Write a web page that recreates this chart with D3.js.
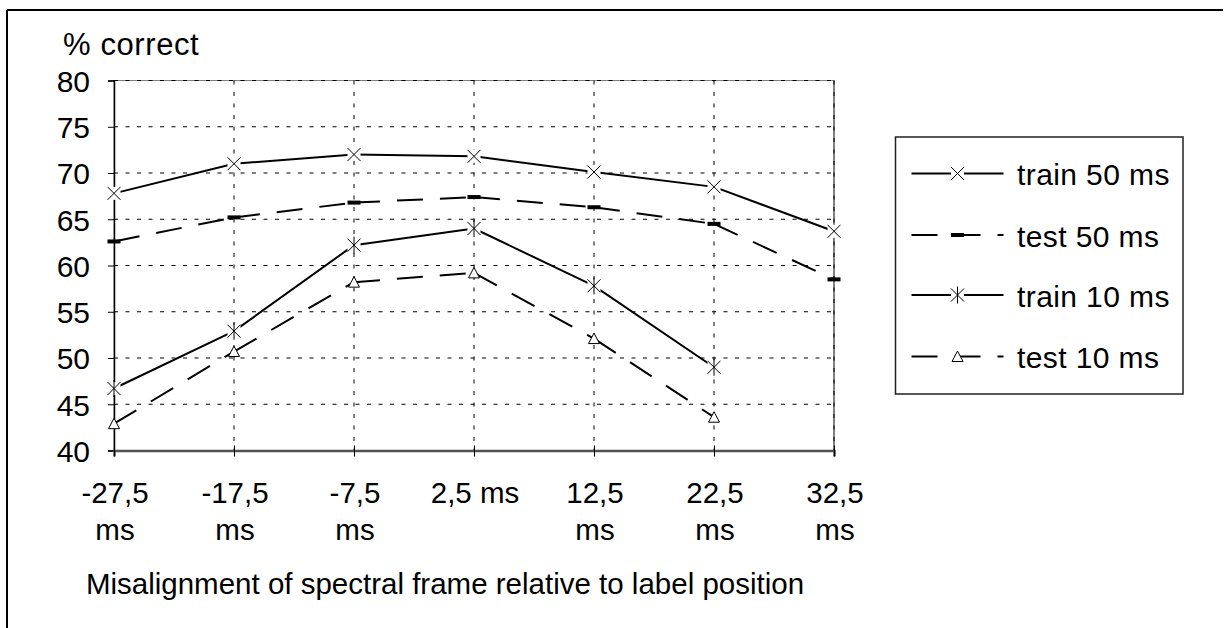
<!DOCTYPE html>
<html>
<head>
<meta charset="utf-8">
<script src="https://cdn.jsdelivr.net/npm/d3@7"></script>
<style>
  body { margin: 0; background: #fff; }
  svg text { font-family: "Liberation Sans", Arial, sans-serif; fill: #000; }
</style>
</head>
<body>
<div id="chart"></div>
<script>

// categories (x positions, misalignment in ms)
const categories = ["-27,5 ms", "-17,5 ms", "-7,5 ms", "2,5 ms", "12,5 ms", "22,5 ms", "32,5 ms"]
// tick labels as Excel wrapped them
const tickLabels = [["-27,5", "ms"], ["-17,5", "ms"], ["-7,5", "ms"], ["2,5 ms"], ["12,5", "ms"], ["22,5", "ms"], ["32,5", "ms"]]
const yTicks = [40, 45, 50, 55, 60, 65, 70, 75, 80]

// % correct per series
const train50 = [67.8, 71.0, 72.0, 71.8, 70.1, 68.5, 63.7]
const test50 = [62.6, 65.2, 66.8, 67.4, 66.3, 64.5, 58.5]
const train10 = [46.7, 52.9, 62.2, 64.0, 57.8, 49.0, null]
const test10 = [42.9, 50.7, 58.2, 59.2, 52.1, 43.6, null]

const seriesNames = ["train 50 ms", "test 50 ms", "train 10 ms", "test 10 ms"]


const width = 1224
const height = 628

const plot = { left: 114, right: 834, top: 80.5, bottom: 450.5 }

const x = d3.scalePoint().domain(categories).range([plot.left, plot.right])
const y = d3.scaleLinear().domain([40, 80]).range([plot.bottom, plot.top])

const svg = d3.select('#chart').append('svg').attr("width", width).attr("height", height)

// outer frame (only top + left visible)
svg.append('line').attr("x1", 7).attr("x2", 1223).attr("y1", 10).attr("y2", 10)
    .attr("stroke", "#000").attr("stroke-width", 2)
svg.append('line').attr("x1", 7).attr("x2", 7).attr("y1", 10).attr("y2", height)
    .attr("stroke", "#000").attr("stroke-width", 2)

// plot area border
svg.append('rect')
    .attr("x", plot.left).attr("y", plot.top)
    .attr("width", plot.right - plot.left).attr("height", plot.bottom - plot.top)
    .attr("fill", "none").attr("stroke", "#808080").attr("stroke-width", 1)
svg.append('line').attr("x1", plot.right).attr("x2", plot.right).attr("y1", plot.top).attr("y2", plot.bottom)
    .attr("stroke", "#808080").attr("stroke-width", 2)

// gridlines
svg.append('g').selectAll('line')
    .data(yTicks.filter(d => d > 40))
    .enter().append('line')
    .attr("x1", plot.left).attr("x2", plot.right)
    .attr("y1", d => y(d)).attr("y2", d => y(d))
    .attr("stroke", "#000").attr("stroke-width", 1)
    .attr("stroke-dasharray", "4 7.5")

svg.append('g').selectAll('line')
    .data(categories.slice(1))
    .enter().append('line')
    .attr("x1", d => x(d)).attr("x2", d => x(d))
    .attr("y1", plot.top).attr("y2", plot.bottom)
    .attr("stroke", "#000").attr("stroke-width", 1)
    .attr("stroke-dasharray", "4 7.5")

// y axis
const axisLeft = d3.axisLeft(y).tickValues(yTicks).tickSize(6).tickFormat(d3.format("d"))
const gy = svg.append('g').attr("transform", `translate(${plot.left},0)`).call(axisLeft)
gy.select(".domain").attr("stroke", "#000").attr("stroke-width", 1.5)
gy.selectAll(".tick line").attr("stroke", "#000")
gy.selectAll(".tick text")
    .attr("font-size", 30).attr("x", -24).attr("dy", "0.36em")
    .style("font-family", "'Liberation Sans', Arial, sans-serif")

svg.append('text').attr("x", 63).attr("y", 55).attr("font-size", 31).attr("letter-spacing", 0.6).text("% correct")

// x axis
const axisBottom = d3.axisBottom(x).tickSize(6).tickFormat("")
const gx = svg.append('g').attr("transform", `translate(0,${plot.bottom})`).call(axisBottom)
gx.select(".domain").attr("stroke", "#505050").attr("stroke-width", 2.5)
gx.selectAll(".tick line").attr("stroke", "#000").attr("y1", -5)

categories.forEach(function (c, i) {
    const t = svg.append('text')
        .attr("x", x(c)).attr("y", 503)
        .attr("text-anchor", "middle").attr("font-size", 29.5)
    tickLabels[i].forEach(function (ln, j) {
        t.append('tspan').attr("x", x(c) + 1).attr("dy", j == 0 ? 0 : 37).text(ln)
    })
})

svg.append('text').attr("x", 445).attr("y", 594).attr("text-anchor", "middle").attr("font-size", 29.5)
    .text("Misalignment of spectral frame relative to label position")

// markers
const mk = 6.5
function drawMarker(g, type, cx, cy) {
    if (type == "x") {
        g.append('rect').attr("x", cx - mk).attr("y", cy - mk).attr("width", 2 * mk).attr("height", 2 * mk).attr("fill", "#fff")
        g.append('path').attr("d", `M${cx - mk},${cy - mk}L${cx + mk},${cy + mk}M${cx - mk},${cy + mk}L${cx + mk},${cy - mk}`)
            .attr("stroke", "#000").attr("stroke-width", 1).attr("fill", "none")
    } else if (type == "star") {
        g.append('rect').attr("x", cx - mk).attr("y", cy - mk).attr("width", 2 * mk).attr("height", 2 * mk).attr("fill", "#fff")
        g.append('path').attr("d", `M${cx - mk},${cy - mk}L${cx + mk},${cy + mk}M${cx - mk},${cy + mk}L${cx + mk},${cy - mk}M${cx},${cy - mk - 2}L${cx},${cy + mk + 2}`)
            .attr("stroke", "#000").attr("stroke-width", 1).attr("fill", "none")
    } else if (type == "dash") {
        g.append('rect').attr("x", cx - mk).attr("y", cy - 2).attr("width", 2 * mk).attr("height", 4).attr("fill", "#000")
    } else if (type == "tri") {
        g.append('path').attr("d", `M${cx},${cy - 5.5}L${cx + 5.5},${cy + 5}L${cx - 5.5},${cy + 5}Z`)
            .attr("stroke", "#000").attr("stroke-width", 1).attr("fill", "#fff")
    }
}

const series = [
    { name: seriesNames[0], values: train50, dash: null, marker: "x" },
    { name: seriesNames[1], values: test50, dash: "26 17", marker: "dash" },
    { name: seriesNames[2], values: train10, dash: null, marker: "star" },
    { name: seriesNames[3], values: test10, dash: "26 17", marker: "tri" },
]

const lineG = svg.append('g')
const markG = svg.append('g')

series.forEach(function (s) {
    const pts = categories.map((c, i) => ({ c: c, v: s.values[i] })).filter(d => d.v != null)
    // each segment restarts its dash pattern, like the original
    d3.pairs(pts).forEach(function (p) {
        lineG.append('line')
            .attr("x1", x(p[0].c)).attr("y1", y(p[0].v))
            .attr("x2", x(p[1].c)).attr("y2", y(p[1].v))
            .attr("stroke", "#000").attr("stroke-width", 2)
            .attr("stroke-dasharray", s.dash)
    })
    pts.forEach(d => drawMarker(markG, s.marker, x(d.c), y(d.v)))
})

// legend
const legend = svg.append('g')
legend.append('rect').attr("x", 895.5).attr("y", 137).attr("width", 287.5).attr("height", 257)
    .attr("fill", "#fff").attr("stroke", "#202020").attr("stroke-width", 1.5)

const rowY = [173.5, 235, 295, 356.5]
series.forEach(function (s, i) {
    const ly = rowY[i]
    legend.append('line').attr("x1", 911.5).attr("x2", 1003.5).attr("y1", ly).attr("y2", ly)
        .attr("stroke", "#000").attr("stroke-width", 2).attr("stroke-dasharray", s.dash)
    drawMarker(legend, s.marker, 957.5, ly)
    legend.append('text').attr("x", 1017).attr("y", ly + 11.5).attr("font-size", 30).attr("letter-spacing", 0.4).text(s.name)
})

</script>
</body>
</html>
